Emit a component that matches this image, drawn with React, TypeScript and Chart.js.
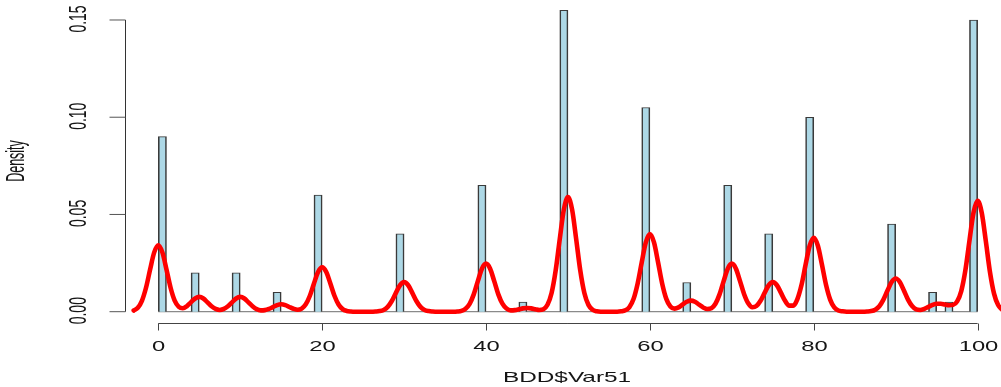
import React, { useEffect, useRef } from "react";
import { Chart, registerables } from "chart.js";

Chart.register(...registerables);

// Histogram bins (left edge, width 1) with their densities
const binLeft = [0, 4, 9, 14, 19, 29, 39, 44, 49, 59, 64, 69, 74, 79, 89, 94, 96, 99];
const binDensity = [0.09, 0.02, 0.02, 0.01, 0.06, 0.04, 0.065, 0.005, 0.155, 0.105, 0.015, 0.065, 0.04, 0.1, 0.045, 0.01, 0.005, 0.15];
const histStart = 0;
const histEnd = 100;

// Kernel density curve
const densityX = [
  -3, -2.5, -2, -1.5, -1, -0.5, 0, 0.5, 1, 1.5,
  2, 2.5, 3, 3.5, 4, 4.5, 5, 5.5, 6, 6.5,
  7, 7.5, 8, 8.5, 9, 9.5, 10, 10.5, 11, 11.5,
  12, 12.5, 13, 13.5, 14, 14.5, 15, 15.5, 16, 16.5,
  17, 17.5, 18, 18.5, 19, 19.5, 20, 20.5, 21, 21.5,
  22, 22.5, 23, 23.5, 24, 24.5, 25, 25.5, 26, 26.5,
  27, 27.5, 28, 28.5, 29, 29.5, 30, 30.5, 31, 31.5,
  32, 32.5, 33, 33.5, 34, 34.5, 35, 35.5, 36, 36.5,
  37, 37.5, 38, 38.5, 39, 39.5, 40, 40.5, 41, 41.5,
  42, 42.5, 43, 43.5, 44, 44.5, 45, 45.5, 46, 46.5,
  47, 47.5, 48, 48.5, 49, 49.5, 50, 50.5, 51, 51.5,
  52, 52.5, 53, 53.5, 54, 54.5, 55, 55.5, 56, 56.5,
  57, 57.5, 58, 58.5, 59, 59.5, 60, 60.5, 61, 61.5,
  62, 62.5, 63, 63.5, 64, 64.5, 65, 65.5, 66, 66.5,
  67, 67.5, 68, 68.5, 69, 69.5, 70, 70.5, 71, 71.5,
  72, 72.5, 73, 73.5, 74, 74.5, 75, 75.5, 76, 76.5,
  77, 77.5, 78, 78.5, 79, 79.5, 80, 80.5, 81, 81.5,
  82, 82.5, 83, 83.5, 84, 84.5, 85, 85.5, 86, 86.5,
  87, 87.5, 88, 88.5, 89, 89.5, 90, 90.5, 91, 91.5,
  92, 92.5, 93, 93.5, 94, 94.5, 95, 95.5, 96, 96.5,
  97, 97.5, 98, 98.5, 99, 99.5, 100, 100.5, 101, 101.5,
  102, 102.5, 103,
];
const densityY = [
  0.0006, 0.002, 0.0056, 0.0123, 0.0217, 0.0305, 0.0342, 0.0305, 0.0217, 0.0123,
  0.0057, 0.0025, 0.0018, 0.0029, 0.0049, 0.0068, 0.0076, 0.0068, 0.0048, 0.0028,
  0.0014, 0.0009, 0.0014, 0.0028, 0.0048, 0.0068, 0.0076, 0.0068, 0.0048, 0.0028,
  0.0013, 0.0007, 0.0008, 0.0014, 0.0024, 0.0034, 0.0038, 0.0034, 0.0024, 0.0015,
  0.001, 0.0016, 0.0038, 0.0082, 0.0145, 0.0204, 0.0228, 0.0204, 0.0145, 0.0082,
  0.0037, 0.0013, 0.0004, 0.0001, 0, 0, 0, 0, 0, 0.0001,
  0.0003, 0.0009, 0.0025, 0.0055, 0.0097, 0.0136, 0.0152, 0.0136, 0.0097, 0.0055,
  0.0025, 0.0009, 0.0003, 0.0001, 0, 0, 0, 0, 0, 0.0001,
  0.0004, 0.0015, 0.004, 0.0089, 0.0157, 0.0221, 0.0247, 0.0221, 0.0157, 0.0089,
  0.0041, 0.0016, 0.0007, 0.0008, 0.0012, 0.0017, 0.0019, 0.0017, 0.0013, 0.0009,
  0.0013, 0.0036, 0.0096, 0.0212, 0.0374, 0.0526, 0.0589, 0.0526, 0.0374, 0.0212,
  0.0096, 0.0035, 0.001, 0.0002, 0, 0, 0, 0, 0, 0.0002,
  0.0007, 0.0024, 0.0065, 0.0144, 0.0253, 0.0356, 0.0399, 0.0356, 0.0253, 0.0144,
  0.0066, 0.0027, 0.0016, 0.0022, 0.0037, 0.0051, 0.0057, 0.0051, 0.0036, 0.0022,
  0.0014, 0.0018, 0.0041, 0.0089, 0.0157, 0.0221, 0.0247, 0.0221, 0.0157, 0.009,
  0.0043, 0.0023, 0.0029, 0.0056, 0.0097, 0.0136, 0.0152, 0.0136, 0.0097, 0.0056,
  0.0031, 0.0031, 0.0065, 0.0137, 0.0241, 0.0339, 0.038, 0.0339, 0.0241, 0.0137,
  0.0062, 0.0022, 0.0006, 0.0002, 0, 0, 0, 0, 0, 0.0001,
  0.0003, 0.001, 0.0028, 0.0062, 0.0109, 0.0153, 0.0171, 0.0153, 0.0109, 0.0062,
  0.0029, 0.0012, 0.0009, 0.0015, 0.0025, 0.0035, 0.0041, 0.0041, 0.0037, 0.0033,
  0.0035, 0.0053, 0.0106, 0.0212, 0.0365, 0.051, 0.057, 0.0509, 0.0362, 0.0205,
  0.0093, 0.0034, 0.001,
];

// Axis ticks
const xTicks = [0, 20, 40, 60, 80, 100];
const xTickLabels = ["0", "20", "40", "60", "80", "100"];
const yTicks = [0, 0.05, 0.1, 0.15];
const yTickLabels = ["0.00", "0.05", "0.10", "0.15"];
const xTitle = "BDD$Var51";
const yTitle = "Density";

const FONT_FAMILY = '"Liberation Sans", Arial, Helvetica, sans-serif';
const TEXT_COLOR = "#151515";

function drawStretchedText(
  ctx: CanvasRenderingContext2D,
  text: string,
  x: number,
  y: number,
  size: number,
  sx: number,
  rotate: boolean
) {
  ctx.save();
  ctx.translate(x, y);
  ctx.scale(sx, 1);
  if (rotate) ctx.rotate(-Math.PI / 2);
  ctx.font = `${size}px ${FONT_FAMILY}`;
  ctx.fillStyle = TEXT_COLOR;
  ctx.textAlign = "center";
  ctx.textBaseline = "middle";
  ctx.fillText(text, 0, 0);
  ctx.restore();
}

const rAxesPlugin = {
  id: "rAxes",
  beforeDatasetsDraw(chart: any) {
    const ctx = chart.ctx as CanvasRenderingContext2D;
    const xs = chart.scales.x;
    const ys = chart.scales.y;
    // baseline of empty histogram cells
    const y0 = ys.getPixelForValue(0);
    ctx.save();
    ctx.strokeStyle = "#8a8a8a";
    ctx.lineWidth = 1.2;
    ctx.beginPath();
    ctx.moveTo(xs.getPixelForValue(histStart), y0);
    ctx.lineTo(xs.getPixelForValue(histEnd), y0);
    ctx.stroke();
    ctx.restore();
  },
  afterDraw(chart: any) {
    const ctx = chart.ctx as CanvasRenderingContext2D;
    const xs = chart.scales.x;
    const ys = chart.scales.y;
    const area = chart.chartArea;
    ctx.save();
    ctx.strokeStyle = "#333";
    ctx.lineWidth = 1;

    // y axis
    const ax = Math.round(area.left) + 0.5;
    ctx.beginPath();
    ctx.moveTo(ax, ys.getPixelForValue(yTicks[yTicks.length - 1]));
    ctx.lineTo(ax, ys.getPixelForValue(yTicks[0]));
    ctx.stroke();
    ctx.strokeStyle = "#555";
    yTicks.forEach((v, i) => {
      const py = ys.getPixelForValue(v);
      ctx.beginPath();
      ctx.moveTo(ax - 16, py);
      ctx.lineTo(ax, py);
      ctx.stroke();
      drawStretchedText(ctx, yTickLabels[i], 79, py - 1, 14, 1.75, true);
    });

    // x axis
    ctx.strokeStyle = "#444";
    const ay = Math.round(area.bottom) + 0.5;
    ctx.beginPath();
    ctx.moveTo(xs.getPixelForValue(xTicks[0]), ay);
    ctx.lineTo(xs.getPixelForValue(xTicks[xTicks.length - 1]), ay);
    ctx.stroke();
    xTicks.forEach((v, i) => {
      const px = Math.round(xs.getPixelForValue(v)) + 0.5;
      ctx.beginPath();
      ctx.moveTo(px, ay);
      ctx.lineTo(px, ay + 7);
      ctx.stroke();
      drawStretchedText(ctx, xTickLabels[i], px, 347, 14, 1.7, false);
    });

    // titles
    drawStretchedText(ctx, xTitle, 567, 378, 14.5, 1.68, false);
    drawStretchedText(ctx, yTitle, 17, 161, 12.5, 2.0, true);
    ctx.restore();
  },
};

export default function App() {
  const canvasRef = useRef<HTMLCanvasElement | null>(null);

  useEffect(() => {
    document.body.style.margin = "0";
    const canvas = canvasRef.current;
    if (!canvas) return;

    const lookup: Record<number, number> = {};
    binLeft.forEach((l, i) => {
      lookup[l] = binDensity[i];
    });
    const barData: { x: number; y: number }[] = [];
    for (let l = histStart; l < histEnd; l++) {
      barData.push({ x: l + 0.5, y: lookup[l] ?? 0 });
    }
    const lineData = densityX.map((x, i) => ({ x, y: densityY[i] }));

    const chart = new Chart(canvas, {
      type: "bar",
      data: {
        datasets: [
          {
            type: "line",
            data: lineData,
            borderColor: "#ff0000",
            borderWidth: 4.6,
            pointRadius: 0,
            fill: false,
            cubicInterpolationMode: "monotone",
            borderJoinStyle: "round",
            borderCapStyle: "round",
            order: 0,
          } as any,
          {
            type: "bar",
            data: barData,
            backgroundColor: "#add8e6",
            borderColor: "#3a3a3a",
            borderWidth: { top: 1, bottom: 0, left: 1.6, right: 1.6 },
            borderSkipped: false,
            barPercentage: 1,
            categoryPercentage: 1,
            order: 1,
          } as any,
        ],
      },
      options: {
        animation: false,
        responsive: false,
        devicePixelRatio: 1,
        layout: { padding: { left: 125.3, right: 0, top: 0, bottom: 63.6 } },
        plugins: { legend: { display: false }, tooltip: { enabled: false } },
        scales: {
          x: {
            type: "linear",
            display: false,
            offset: false,
            min: -4.027,
            max: 102.85,
          },
          y: {
            type: "linear",
            display: false,
            min: -0.00602,
            max: 0.16028,
          },
        },
      },
      plugins: [rAxesPlugin],
    });

    return () => chart.destroy();
  }, []);

  return (
    <div style={{ position: "relative", width: 1001, height: 387, background: "#fff" }}>
      <canvas ref={canvasRef} width={1001} height={387} style={{ display: "block" }} />
    </div>
  );
}
